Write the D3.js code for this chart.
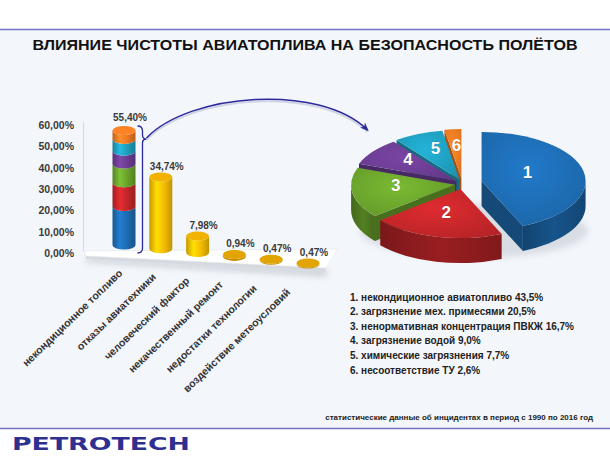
<!DOCTYPE html>
<html>
<head>
<meta charset="utf-8">
<script src="https://cdn.jsdelivr.net/npm/d3@7"></script>
<style>
  body { margin: 0; background: #fff; }
  svg { display: block; font-family: "Liberation Sans", Arial, sans-serif; }
</style>
</head>
<body>
<div id="chart"></div>
<script>
// bar chart data
const categories = ["некондиционное топливо", "отказы авиатехники", "человеческий фактор",
  "некачественный ремонт", "недостатки технологии", "воздействие метеоусловий"];
const barValues = [55.40, 34.74, 7.98, 0.94, 0.47, 0.47];
// parts of the first bar as drawn in the picture (bottom to top)
const stackParts = [18.6, 11.5, 9.1, 6.2, 5.7, 4.3];
const yTicks = [0, 10, 20, 30, 40, 50, 60];

// pie data
const pieNumbers = ["1", "2", "3", "4", "5", "6"];
const pieNames = ["некондиционное авиатопливо", "загрязнение мех. примесями",
  "ненормативная концентрация ПВКЖ", "загрязнение водой", "химические загрязнения",
  "несоответствие ТУ"];
const pieValues = [43.5, 20.5, 16.7, 9.0, 7.7, 2.6];

const title = "ВЛИЯНИЕ ЧИСТОТЫ АВИАТОПЛИВА НА БЕЗОПАСНОСТЬ ПОЛЁТОВ";
const footnote = "статистические данные об инцидентах в период с 1990 по 2016 год";

const sliceColors = ["#1d6cb2", "#c4262a", "#6ba42c", "#6c3d92", "#1f9fbf", "#ef7a22"];
const barColor = "#f7be00";

const W = 610, H = 458;
const svg = d3.select("#chart").append("svg").attr("width", W).attr("height", H);
const defs = svg.append("defs");

let fmt = d => d3.format(".2f")(d).replace(".", ",") + "%";
let fmt1 = d => d3.format(".1f")(d).replace(".", ",") + "%";

// background
svg.append("rect").attr("width", W).attr("height", H).attr("fill", "#fff");
svg.append("rect").attr("x", 0).attr("y", 30).attr("width", W).attr("height", 398).attr("fill", "#f3f6fb");
svg.append("line").attr("x1", 0).attr("x2", W).attr("y1", 29.5).attr("y2", 29.5)
  .attr("stroke", "#7275c2").attr("stroke-width", 1.5);
svg.append("line").attr("x1", 0).attr("x2", W).attr("y1", 428.5).attr("y2", 428.5)
  .attr("stroke", "#7275c2").attr("stroke-width", 1.5);

svg.append("text").attr("x", 305).attr("y", 50).attr("text-anchor", "middle")
  .attr("font-size", 15.5).attr("font-weight", "bold").attr("fill", "#111")
  .attr("textLength", 545).attr("lengthAdjust", "spacingAndGlyphs").text(title);

svg.append("text").attr("x", 12).attr("y", 450).attr("font-family", "DejaVu Sans")
  .attr("font-size", 18).attr("font-weight", "bold").attr("fill", "#2e3090")
  .attr("textLength", 178).attr("lengthAdjust", "spacingAndGlyphs").text("PETROTECH");

// gradients
function cylGrad(id, base) {
  let c = d3.color(base);
  let g = defs.append("linearGradient").attr("id", id).attr("x1", 0).attr("x2", 1).attr("y1", 0).attr("y2", 0);
  g.append("stop").attr("offset", 0).attr("stop-color", c.darker(0.6));
  g.append("stop").attr("offset", 0.32).attr("stop-color", c.brighter(0.45));
  g.append("stop").attr("offset", 0.62).attr("stop-color", c);
  g.append("stop").attr("offset", 1).attr("stop-color", c.darker(0.7));
  return "url(#" + id + ")";
}
function topGrad(id, base) {
  let c = d3.color(base);
  let g = defs.append("radialGradient").attr("id", id).attr("cx", 0.45).attr("cy", 0.4).attr("r", 0.75);
  g.append("stop").attr("offset", 0).attr("stop-color", c.brighter(0.35));
  g.append("stop").attr("offset", 1).attr("stop-color", c.darker(0.25));
  return "url(#" + id + ")";
}
function sideGrad(id, base) {
  let c = d3.color(base);
  let g = defs.append("linearGradient").attr("id", id).attr("x1", 0).attr("x2", 1).attr("y1", 0).attr("y2", 0);
  g.append("stop").attr("offset", 0).attr("stop-color", c.darker(1.3));
  g.append("stop").attr("offset", 0.5).attr("stop-color", c.darker(0.7));
  g.append("stop").attr("offset", 1).attr("stop-color", c.darker(1.2));
  return "url(#" + id + ")";
}
let blur = defs.append("filter").attr("id", "blur").attr("x", -0.2).attr("y", -0.5).attr("width", 1.4).attr("height", 2);
blur.append("feGaussianBlur").attr("stdDeviation", 3);

// ---------- bar chart ----------
const x = d3.scalePoint().domain(categories).range([124, 308]);
const baseY = d3.scaleLinear().domain([124, 308]).range([245, 264]);
const h = d3.scaleLinear().domain([0, 60]).range([0, 124]);
const y = d3.scaleLinear().domain([0, 60]).range([253, 125]);
const bw = 23, ery = 4.5;

// floor
const fl = [[84, 251], [338, 249], [326, 268], [86, 256]];
svg.append("polygon").attr("points", [[86, 258], [328, 270], [326, 276], [86, 262]].join(" "))
  .attr("fill", "#9aa0aa").attr("opacity", 0.5).attr("filter", "url(#blur)");
svg.append("polygon").attr("points", [[86, 256], [326, 268], [325, 271.5], [86, 259]].join(" "))
  .attr("fill", "#d6d9df");
svg.append("polygon").attr("points", fl.join(" ")).attr("fill", "#fff")
  .attr("stroke", "#e2e5ea").attr("stroke-width", 0.6);
svg.append("line").attr("x1", 83.5).attr("x2", 83.5).attr("y1", 122).attr("y2", 251)
  .attr("stroke", "#d5d9e0").attr("stroke-width", 1);

// y axis
const yAxis = svg.append("g").attr("transform", "translate(76,0)")
  .call(d3.axisLeft(y).tickValues(yTicks).tickFormat(fmt).tickSize(0).tickPadding(2));
yAxis.select(".domain").remove();
yAxis.selectAll("text").attr("font-size", 10.5).attr("font-weight", "bold").attr("fill", "#3a3a3a")
  .attr("font-family", "Liberation Sans, Arial, sans-serif");

function segPath(cx, yTop, yBot) {
  let x0 = cx - bw / 2, x1 = cx + bw / 2;
  return `M${x0},${yTop} A${bw / 2},${ery} 0 0 0 ${x1},${yTop} L${x1},${yBot} A${bw / 2},${ery} 0 0 1 ${x0},${yBot} Z`;
}

const bars = svg.append("g");
barValues.forEach((v, i) => {
  let cx = x(categories[i]);
  let b = baseY(cx);
  let top = b - h(v);
  let g = bars.append("g");
  if (i === 0) {
    let acc = 0;
    stackParts.forEach((p, k) => {
      let y0 = b - h(acc), y1 = b - h(acc + p);
      g.append("path").attr("d", segPath(cx, y1, y0)).attr("fill", cylGrad("seg" + k, sliceColors[k]));
      acc += p;
    });
    g.append("ellipse").attr("cx", cx).attr("cy", top).attr("rx", bw / 2).attr("ry", ery)
      .attr("fill", d3.color(sliceColors[5]).brighter(0.2));
  } else if (h(v) > 3) {
    g.append("path").attr("d", segPath(cx, top, b)).attr("fill", cylGrad("bar" + i, barColor));
    g.append("ellipse").attr("cx", cx).attr("cy", top).attr("rx", bw / 2).attr("ry", ery)
      .attr("fill", "#f2b200");
  } else {
    g.append("path").attr("d", segPath(cx, top, b)).attr("fill", "#c98e00");
    g.append("ellipse").attr("cx", cx).attr("cy", top).attr("rx", bw / 2).attr("ry", ery)
      .attr("fill", "#e2a400");
  }
  bars.append("text").attr("x", cx + 6).attr("y", top - ery - (i === 0 ? 5 : 3))
    .attr("text-anchor", "middle").attr("font-size", 10).attr("font-weight", "bold")
    .attr("fill", "#3a3a3a").text(fmt(v));
});

// category labels
const lx = d3.scalePoint().domain(categories).range([123, 291]);
const ly = d3.scalePoint().domain(categories).range([274, 293]);
svg.append("g").selectAll("text").data(categories).join("text")
  .attr("transform", d => `translate(${lx(d)},${ly(d)}) rotate(-44)`)
  .attr("text-anchor", "end").attr("font-size", 10.5).attr("font-weight", "bold")
  .attr("fill", "#333").text(d => d);

// brace and arrow
const bx = x(categories[0]) + bw / 2 + 4;
const bTop = baseY(x(categories[0])) - h(barValues[0]) - ery;
const bBot = y(0);
svg.append("path")
  .attr("d", `M${bx - 2},${bTop} Q${bx + 3},${bTop} ${bx + 3},${bTop + 5} L${bx + 3},${bTop + 9} Q${bx + 3},${bTop + 13} ${bx + 7},${bTop + 13} Q${bx + 3},${bTop + 13} ${bx + 3},${bTop + 17} L${bx + 3},${bBot - 5} Q${bx + 3},${bBot} ${bx - 2},${bBot}`)
  .attr("fill", "none").attr("stroke", "#2b2a98").attr("stroke-width", 1.3);

defs.append("marker").attr("id", "arr").attr("viewBox", "0 0 10 10").attr("refX", 8).attr("refY", 5)
  .attr("markerWidth", 6).attr("markerHeight", 6).attr("orient", "auto")
  .append("path").attr("d", "M0,1 L10,5 L0,9 L3,5 Z").attr("fill", "#2b2a98");
const ax0 = bx + 7, ay0 = bTop + 12;
svg.append("path").attr("d", `M${ax0},${ay0 + 2} C${ax0 + 43},${ay0 - 43} ${ax0 + 173},${ay0 - 53} ${ax0 + 221},${ay0 - 6}`)
  .attr("fill", "none").attr("stroke", "#b9bdd6").attr("stroke-width", 2).attr("opacity", 0.6);
svg.append("path").attr("d", `M${ax0},${ay0} C${ax0 + 43},${ay0 - 45} ${ax0 + 173},${ay0 - 55} ${ax0 + 221},${ay0 - 8}`)
  .attr("fill", "none").attr("stroke", "#2b2a98").attr("stroke-width", 1.5).attr("marker-end", "url(#arr)");

// ---------- 3D pie ----------
const pcx = 462, pcy = 184, rx = 104, ry = 49, depth = 25;
const explode = [20, 7, 7, 7, 7, 8];
const arcs = d3.pie().sort(null).value(d => d)(pieValues);

function pt(a, cx, cy, dz) { return [cx + rx * Math.sin(a), cy - ry * Math.cos(a) + (dz || 0)]; }

svg.append("ellipse").attr("cx", pcx + 12).attr("cy", pcy + depth + 22).attr("rx", rx + 10).attr("ry", ry * 0.55)
  .attr("fill", "#8a90a0").attr("opacity", 0.25).attr("filter", "url(#blur)");

const pieG = svg.append("g");
const slices = arcs.map((a, i) => {
  let mid = (a.startAngle + a.endAngle) / 2;
  let off = explode[i];
  let cx = pcx + off * Math.sin(mid), cy = pcy - off * Math.cos(mid) * 0.75;
  return { a, i, mid, cx, cy };
});
slices.slice().sort((p, q) => (-Math.cos(p.mid)) - (-Math.cos(q.mid))).forEach(s => {
  let { a, i, cx, cy } = s;
  let a0 = a.startAngle, a1 = a.endAngle;
  let col = sliceColors[i];
  let g = pieG.append("g");
  let dark = d3.color(col).darker(1.1);
  // cut faces
  [[a0, -Math.sin(a0)], [a1, Math.sin(a1)]].forEach(([ang, vis]) => {
    if (vis > 0.01) {
      let p = pt(ang, cx, cy);
      g.append("path").attr("d", `M${cx},${cy} L${p[0]},${p[1]} L${p[0]},${p[1] + depth} L${cx},${cy + depth} Z`)
        .attr("fill", dark);
    }
  });
  // outer wall
  let s0 = Math.max(a0, Math.PI / 2), e0 = Math.min(a1, Math.PI * 1.5);
  if (s0 < e0) {
    let p0 = pt(s0, cx, cy), p1 = pt(e0, cx, cy);
    let lg = (e0 - s0) > Math.PI ? 1 : 0;
    g.append("path")
      .attr("d", `M${p0[0]},${p0[1]} A${rx},${ry} 0 ${lg} 1 ${p1[0]},${p1[1]} L${p1[0]},${p1[1] + depth} A${rx},${ry} 0 ${lg} 0 ${p0[0]},${p0[1] + depth} Z`)
      .attr("fill", sideGrad("side" + i, col));
  }
  // top
  let q0 = pt(a0, cx, cy), q1 = pt(a1, cx, cy);
  let lg = (a1 - a0) > Math.PI ? 1 : 0;
  g.append("path").attr("d", `M${cx},${cy} L${q0[0]},${q0[1]} A${rx},${ry} 0 ${lg} 1 ${q1[0]},${q1[1]} Z`)
    .attr("fill", topGrad("top" + i, col));
});
slices.forEach(s => {
  let k = s.i === 0 ? 0.45 : 0.58;
  let p = [s.cx + k * rx * Math.sin(s.mid), s.cy - k * ry * Math.cos(s.mid) - 5];
  pieG.append("text").attr("x", p[0]).attr("y", p[1]).attr("dy", "0.36em").attr("text-anchor", "middle")
    .attr("font-size", 17).attr("font-weight", "bold").attr("fill", "#fff")
    .attr("stroke", "rgba(0,0,0,0.25)").attr("stroke-width", 0.6).attr("paint-order", "stroke")
    .text(pieNumbers[s.i]);
});

// legend
svg.append("g").selectAll("text").data(pieNames).join("text")
  .attr("x", 350).attr("y", (d, i) => 300.5 + i * 14.6)
  .attr("font-size", 10).attr("font-weight", "bold").attr("fill", "#222")
  .text((d, i) => `${pieNumbers[i]}. ${d} ${fmt1(pieValues[i])}`);

svg.append("text").attr("x", 593).attr("y", 420).attr("text-anchor", "end")
  .attr("font-size", 8).attr("font-weight", "bold").attr("fill", "#222").text(footnote);
</script>
</body>
</html>
